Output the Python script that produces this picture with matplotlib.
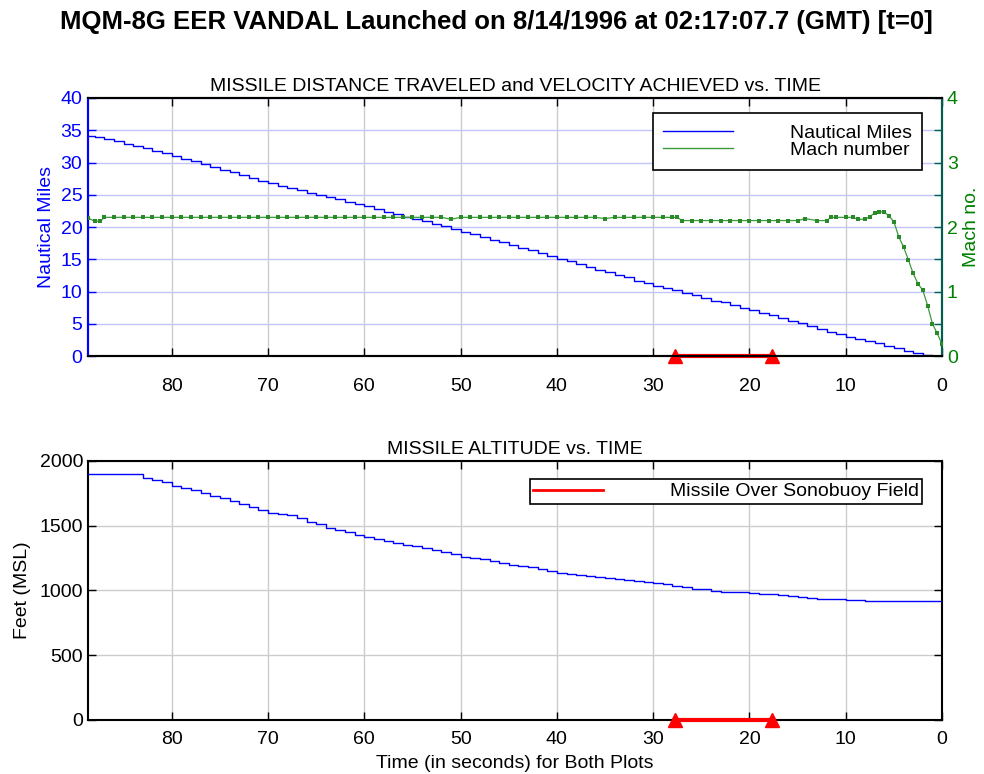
import matplotlib
matplotlib.use("Agg")
import matplotlib.pyplot as plt
from matplotlib.lines import Line2D
from matplotlib.ticker import MultipleLocator

plt.rcParams['font.family'] = ['Liberation Sans', 'DejaVu Sans']

# ---------------- data ----------------
time_s = [88.7, 88, 87, 86, 85, 84, 83, 82, 81, 80, 79, 78, 77, 76, 75, 74, 73, 72, 71, 70,
          69, 68, 67, 66, 65, 64, 63, 62, 61, 60, 59, 58, 57, 56, 55, 54, 53, 52, 51, 50,
          49, 48, 47, 46, 45, 44, 43, 42, 41, 40, 39, 38, 37, 36, 35, 34, 33, 32, 31, 30,
          29, 28, 27, 26, 25, 24, 23, 22, 21, 20, 19, 18, 17, 16, 15, 14, 13, 12, 11, 10,
          9, 8, 7, 6, 5, 4, 3, 2, 1, 0]

nautical_miles = [34.1, 33.9, 33.6, 33.3, 32.9, 32.5, 32.2, 31.8, 31.4, 31.05, 30.6, 30.2, 29.8, 29.3, 28.9,
                  28.5, 28.1, 27.6, 27.2, 26.8, 26.4, 26.1, 25.7, 25.3, 25.0, 24.6, 24.3, 23.9, 23.6, 23.2,
                  22.8, 22.4, 22.0, 21.6, 21.3, 20.9, 20.5, 20.1, 19.7, 19.3, 18.9, 18.5, 18.0, 17.6, 17.2,
                  16.8, 16.4, 15.9, 15.5, 15.1, 14.7, 14.3, 13.8, 13.4, 13.0, 12.6, 12.2, 11.7, 11.3, 10.9,
                  10.5, 10.2, 9.8, 9.4, 9.0, 8.6, 8.3, 7.9, 7.5, 7.15, 6.7, 6.3, 5.9, 5.5, 5.1,
                  4.7, 4.2, 3.8, 3.4, 3.0, 2.65, 2.3, 1.95, 1.6, 1.2, 0.75, 0.4, 0.15, 0.03, 0.0]

altitude_ft = [1900, 1900, 1900, 1900, 1900, 1900, 1865, 1850, 1840, 1805, 1790, 1775, 1750, 1730, 1712,
               1690, 1670, 1648, 1625, 1600, 1590, 1580, 1560, 1530, 1510, 1480, 1465, 1450, 1430, 1415,
               1400, 1385, 1370, 1355, 1340, 1325, 1310, 1295, 1278, 1262, 1250, 1240, 1225, 1212, 1200,
               1190, 1178, 1165, 1150, 1138, 1130, 1122, 1112, 1102, 1095, 1088, 1080, 1072, 1064, 1058,
               1050, 1038, 1030, 1015, 1010, 995, 990, 990, 985, 978, 975, 970, 965, 955, 950,
               945, 938, 935, 932, 928, 924, 918, 918, 918, 918, 918, 918, 918, 918, 918]

mach_time = [88.7, 88, 87.4, 87, 86, 85, 84, 83, 82, 81, 80, 79, 78, 77, 76, 75, 74, 73, 72, 71, 70,
             69, 68, 67, 66, 65, 64, 63, 62, 61, 60, 59, 58, 57, 56, 55, 54, 53, 52, 51, 50,
             49, 48, 47, 46, 45, 44, 43, 42, 41, 40, 39, 38, 37, 36, 35, 34, 33, 32, 31, 30,
             29, 28, 27.5, 27, 26, 25, 24, 23, 22, 21, 20, 19, 18, 17, 16, 15, 14.2, 13, 12, 11.5, 11, 10,
             9.3, 8.7, 8, 7.5, 7, 6.5, 6, 5.5, 5, 4.5, 4, 3.5, 3, 2.5, 2, 1.5, 1, 0.5, 0]

mach_number = [2.14, 2.09, 2.09, 2.15, 2.15, 2.15, 2.15, 2.15, 2.15, 2.15, 2.15, 2.15, 2.15, 2.15, 2.15, 2.15, 2.15, 2.15, 2.15, 2.15, 2.15,
               2.15, 2.15, 2.15, 2.15, 2.15, 2.15, 2.15, 2.15, 2.15, 2.15, 2.15, 2.15, 2.15, 2.15, 2.15, 2.15, 2.15, 2.15, 2.12, 2.15,
               2.15, 2.15, 2.15, 2.15, 2.15, 2.15, 2.15, 2.15, 2.15, 2.15, 2.15, 2.15, 2.15, 2.15, 2.13, 2.15, 2.15, 2.15, 2.15, 2.15,
               2.15, 2.15, 2.15, 2.10, 2.10, 2.10, 2.10, 2.10, 2.10, 2.10, 2.10, 2.10, 2.10, 2.10, 2.10, 2.10, 2.13, 2.10, 2.10, 2.15, 2.15, 2.15,
               2.15, 2.12, 2.12, 2.16, 2.22, 2.24, 2.23, 2.17, 2.08, 1.85, 1.69, 1.49, 1.28, 1.12, 1.02, 0.78, 0.50, 0.35, 0.18]

sonobuoy_start = 27.7
sonobuoy_end = 17.7

x_ticks = [80, 70, 60, 50, 40, 30, 20, 10, 0]

BLUE = '#0000ff'
GREEN_TXT = '#008000'
GREEN_LINE = '#3c9c3c'
GREEN_MARK = '#2a8a2a'
GRID_GRAY = '#cccccc'
GRID_BLUE = '#c4c4ff'
FS = 14

fig = plt.figure(figsize=(9.84, 7.74), dpi=100)
fig.text(0.505, 0.972, 'MQM-8G EER VANDAL Launched on 8/14/1996 at 02:17:07.7 (GMT) [t=0]',
         ha='center', va='center', fontsize=18.5, fontweight='bold')

# ---------- top axes ----------
ax1 = fig.add_axes([0.0894, 0.540, 0.868, 0.3334])
ax2 = ax1.twinx()

ax1.plot(time_s, nautical_miles, color=BLUE, lw=1.0, drawstyle='steps-post', zorder=3)
ax2.plot(mach_time, mach_number, color=GREEN_LINE, lw=0.9, marker='s', ms=2.4,
         markeredgewidth=0, markerfacecolor=GREEN_MARK, zorder=3)

ax1.plot([sonobuoy_start, sonobuoy_end], [0, 0], color='red', lw=3, marker='^', ms=10,
         clip_on=False, zorder=10)

ax1.set_xlim(88.7, 0)
ax1.set_ylim(0, 40)
ax2.set_ylim(0, 4)
ax1.set_xticks(x_ticks)
ax1.set_yticks(range(0, 41, 5))
ax2.set_yticks([0, 1, 2, 3, 4])
ax2.yaxis.set_minor_locator(MultipleLocator(0.5))

ax1.set_axisbelow(True)
ax1.grid(axis='x', color=GRID_GRAY, lw=1)
ax1.grid(axis='y', color=GRID_BLUE, lw=1)

ax1.tick_params(axis='x', direction='in', top=True, length=6, width=1, labelsize=FS, pad=16)
ax1.tick_params(axis='y', direction='in', length=6, width=1, colors=BLUE, labelsize=FS, pad=4)
ax2.tick_params(axis='y', which='both', direction='in', length=6, width=1, colors=GREEN_TXT, labelsize=FS)
ax2.tick_params(axis='y', which='minor', length=6, colors='#006050')
ax2.tick_params(axis='y', which='major', color='#006050')

for sp in ax1.spines.values():
    sp.set_linewidth(1.5)
for sp in ax2.spines.values():
    sp.set_linewidth(1.5)
ax1.spines['left'].set_color(BLUE)
ax2.spines['left'].set_color(BLUE)
ax2.spines['right'].set_color('#006050')

ax1.set_ylabel('Nautical Miles', color=BLUE, fontsize=FS, labelpad=4)
ax2.set_ylabel('Mach no.', color=GREEN_TXT, fontsize=FS, labelpad=4)
ax1.set_title('MISSILE DISTANCE TRAVELED and VELOCITY ACHIEVED vs. TIME', fontsize=FS, pad=5)

h_top = [Line2D([], [], color=BLUE, lw=1.0), Line2D([], [], color=GREEN_LINE, lw=1.0)]
leg1 = ax2.legend(h_top, ['Nautical Miles', 'Mach number'], loc='upper right',
                  bbox_to_anchor=(0.977, 0.941), borderaxespad=0, fancybox=False, framealpha=1,
                  edgecolor='black', fontsize=FS, handlelength=3.6, handletextpad=2.9,
                  labelspacing=0.0, borderpad=0.55)
leg1.get_frame().set_linewidth(1.2)
leg1.set_zorder(20)

# ---------- bottom axes ----------
ax3 = fig.add_axes([0.0894, 0.0698, 0.868, 0.3346])
ax3.plot(time_s, altitude_ft, color=BLUE, lw=1.0, drawstyle='steps-post', zorder=3)
ax3.plot([sonobuoy_start, sonobuoy_end], [0, 0], color='red', lw=3, marker='^', ms=10,
         clip_on=False, zorder=10)
ax3.set_xlim(88.7, 0)
ax3.set_ylim(0, 2000)
ax3.set_xticks(x_ticks)
ax3.set_yticks([0, 500, 1000, 1500, 2000])
ax3.set_axisbelow(True)
ax3.grid(True, color=GRID_GRAY, lw=1)
ax3.tick_params(direction='in', top=True, right=True, length=6, width=1, labelsize=FS)
ax3.tick_params(axis='x', pad=8)
for sp in ax3.spines.values():
    sp.set_linewidth(1.5)
ax3.set_ylabel('Feet (MSL)', fontsize=FS, labelpad=6)
ax3.set_xlabel('Time (in seconds) for Both Plots', fontsize=FS, labelpad=5)
ax3.set_title('MISSILE ALTITUDE vs. TIME', fontsize=FS, pad=5)

h_bot = [Line2D([], [], color='red', lw=2)]
leg2 = ax3.legend(h_bot, ['Missile Over Sonobuoy Field'], loc='upper right',
                  bbox_to_anchor=(0.977, 0.9305), borderaxespad=0, fancybox=False, framealpha=1,
                  edgecolor='black', fontsize=FS, handlelength=3.6, handletextpad=3.4,
                  borderpad=0.2, handleheight=0.5)
leg2.get_frame().set_linewidth(1.2)

fig.savefig('out.png', dpi=100)
